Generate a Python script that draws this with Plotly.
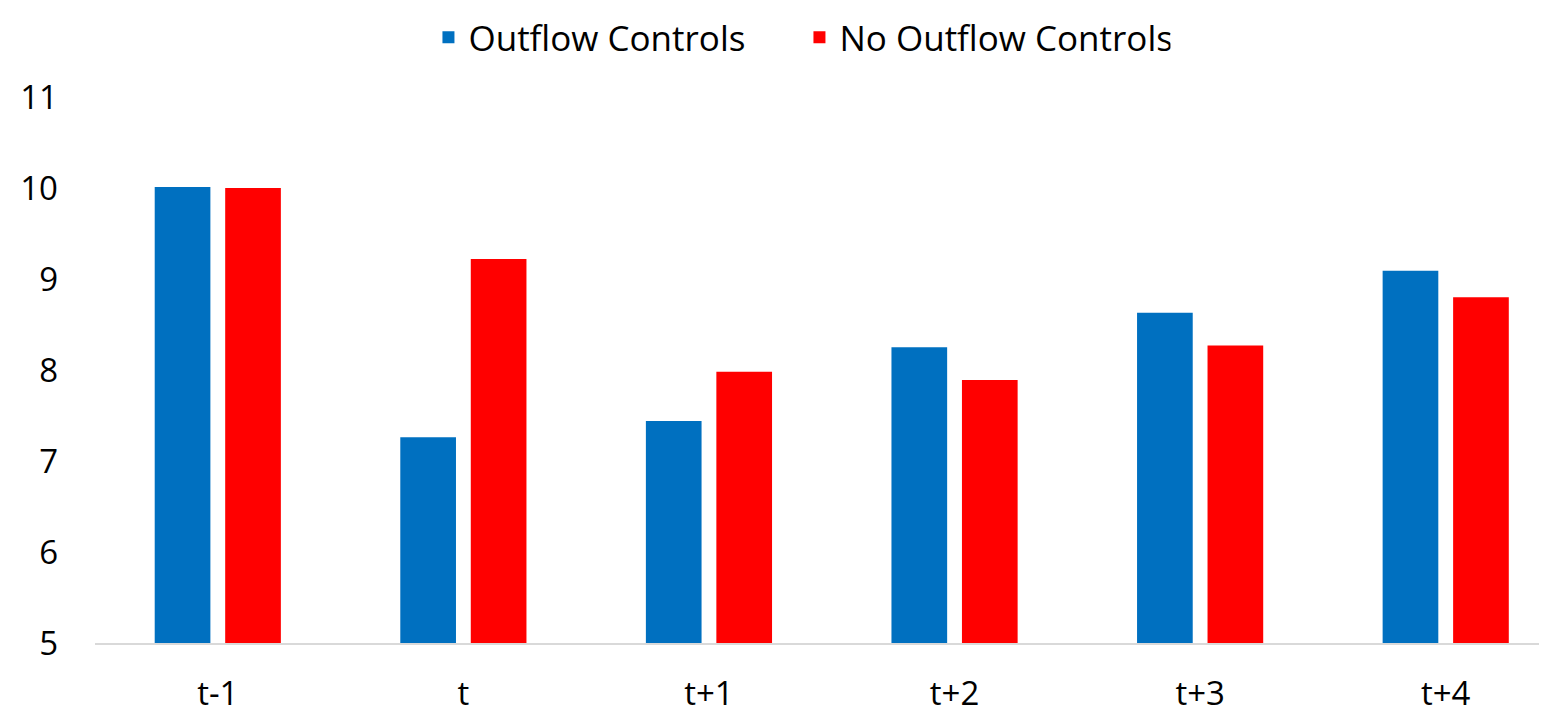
import plotly.graph_objects as go

categories = ["t-1", "t", "t+1", "t+2", "t+3", "t+4"]
outflow_controls = [10.01, 7.26, 7.44, 8.25, 8.63, 9.09]
no_outflow_controls = [10.0, 9.22, 7.98, 7.89, 8.27, 8.80]
y_ticks = [5, 6, 7, 8, 9, 10, 11]

fig = go.Figure()
fig.add_trace(go.Bar(x=categories, y=outflow_controls, name="Outflow Controls",
                     marker=dict(color="#0070C0", line=dict(width=0))))
fig.add_trace(go.Bar(x=categories, y=no_outflow_controls, name="No Outflow Controls",
                     marker=dict(color="#FF0000", line=dict(width=0))))

font_family = "Open Sans, Noto Sans, sans-serif"
fig.update_layout(
    width=1547, height=715,
    paper_bgcolor="white", plot_bgcolor="white",
    margin=dict(l=87, r=0, t=89, b=80, autoexpand=False),
    barmode="group", bargap=0.426, bargroupgap=0.21,
    font=dict(family=font_family, size=32, color="#000000"),
    legend=dict(orientation="h", x=0.4825, xanchor="center", y=1.0, yanchor="top",
                yref="container", font=dict(size=35), traceorder="normal",
                entrywidth=326, entrywidthmode="pixels"),
    showlegend=True,
    xaxis=dict(showgrid=False, showline=True, linecolor="#D9D9D9", linewidth=2,
               range=[-0.5, 5.445],
               ticks="", ticklabelstandoff=20, tickfont=dict(size=33), automargin=False),
    yaxis=dict(range=[5, 11], tickvals=y_ticks, showgrid=False, zeroline=False,
               showline=False, ticks="", ticklabelstandoff=36, tickfont=dict(size=33),
               automargin=False),
)
fig.write_html("out.html")
